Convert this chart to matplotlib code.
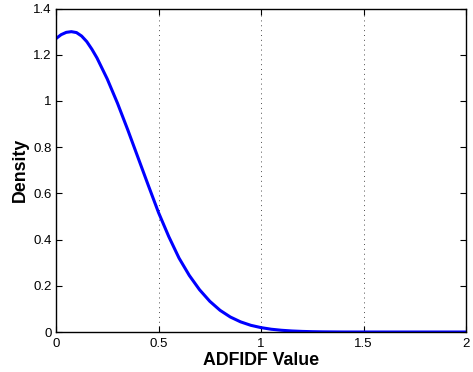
import matplotlib
matplotlib.use("Agg")
import matplotlib.pyplot as plt

# data
x_vals = [0.0, 0.025, 0.05, 0.075, 0.1, 0.125, 0.15, 0.175, 0.2, 0.25, 0.3,
          0.35, 0.4, 0.45, 0.5, 0.55, 0.6, 0.65, 0.7, 0.75, 0.8, 0.85, 0.9,
          0.95, 1.0, 1.05, 1.1, 1.15, 1.2, 1.25, 1.3, 1.4, 1.6, 1.8, 2.0]
density = [1.27, 1.287, 1.297, 1.300, 1.296, 1.281, 1.257, 1.224, 1.186,
           1.095, 0.99, 0.875, 0.755, 0.635, 0.517, 0.413, 0.32, 0.245,
           0.183, 0.133, 0.094, 0.065, 0.044, 0.029, 0.019, 0.012, 0.0075,
           0.0045, 0.0026, 0.0014, 0.0007, 0.0001, 0.0, 0.0, 0.0]

x_ticks = [0, 0.5, 1, 1.5, 2]
x_tick_labels = ["0", "0.5", "1", "1.5", "2"]
y_ticks = [0, 0.2, 0.4, 0.6, 0.8, 1.0, 1.2, 1.4]
y_tick_labels = ["0", "0.2", "0.4", "0.6", "0.8", "1", "1.2", "1.4"]

plt.rcParams["font.family"] = ["Liberation Sans", "DejaVu Sans"]

fig = plt.figure(figsize=(4.73, 3.72), dpi=100)
ax = fig.add_axes([0.1184, 0.1075, 0.867, 0.8695])

ax.plot(x_vals, density, color=(0, 0, 1), lw=2.2, solid_joinstyle="round")

ax.set_xlim(0, 2)
ax.set_ylim(0, 1.4)
ax.set_xticks(x_ticks)
ax.set_xticklabels(x_tick_labels)
ax.set_yticks(y_ticks)
ax.set_yticklabels(y_tick_labels)
ax.tick_params(direction="in", top=True, right=True, length=4, width=0.8,
               labelsize=9.5, pad=3)
ax.tick_params(axis="x", pad=4)
ax.xaxis.grid(True, linestyle=(0, (1, 4)), color="0.3", linewidth=0.7)
for s in ax.spines.values():
    s.set_linewidth(1.0)

ax.set_xlabel("ADFIDF Value", fontsize=12.8, fontweight="bold", labelpad=2)
ax.set_ylabel("Density", fontsize=12.8, fontweight="bold", labelpad=3)

fig.savefig("out.png", dpi=100)
